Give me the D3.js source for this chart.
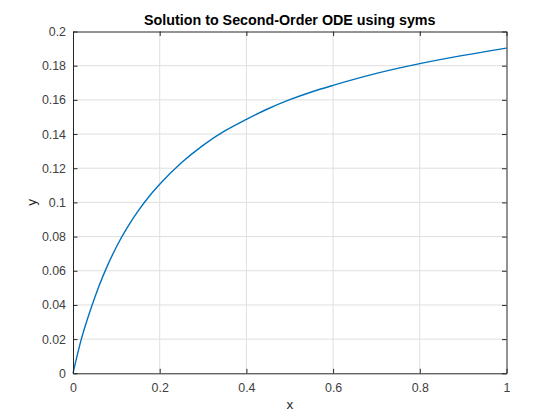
<!DOCTYPE html>
<html><head><meta charset="utf-8">
<script src="https://cdn.jsdelivr.net/npm/d3@7"></script>
<style>body{margin:0;background:#fff;} svg{display:block;font-family:"Liberation Sans",Arial,sans-serif;}</style>
</head><body>
<script>
const xValues = [0, 0.02, 0.04, 0.06, 0.08, 0.1, 0.125, 0.15, 0.175, 0.2, 0.25, 0.3, 0.35, 0.4, 0.45, 0.5, 0.55, 0.6, 0.7, 0.8, 0.9, 1.0];
const yValues = [0, 0.0207, 0.0369, 0.0511, 0.0633, 0.0739, 0.0852, 0.0949, 0.1033, 0.1106, 0.1232, 0.1334, 0.1418, 0.1486, 0.1548, 0.1601, 0.1646, 0.1685, 0.1755, 0.1812, 0.1860, 0.1903];
const xTicks = [0, 0.2, 0.4, 0.6, 0.8, 1];
const yTicks = [0, 0.02, 0.04, 0.06, 0.08, 0.1, 0.12, 0.14, 0.16, 0.18, 0.2];
const titleText = "Solution to Second-Order ODE using syms";
const xLabel = "x", yLabel = "y";

(function () {
const W = 560, H = 420;
const m = {left: 73, right: 53.5, top: 31.5, bottom: 46.7};
const svg = d3.select("body").append("svg").attr("width", W).attr("height", H);
const x = d3.scaleLinear().domain([0, 1]).range([m.left, W - m.right]);
const y = d3.scaleLinear().domain([0, 0.2]).range([H - m.bottom, m.top]);
const axisColor = "#262626";
const fmt = d => String(d);

// grid
const g = svg.append("g");
g.selectAll(".gx").data(xTicks.slice(1, -1)).join("line")
  .attr("x1", d => x(d)).attr("x2", d => x(d)).attr("y1", y(0)).attr("y2", y(0.2))
  .attr("stroke", "#dfdfdf").attr("stroke-width", 1);
g.selectAll(".gy").data(yTicks.slice(1, -1)).join("line")
  .attr("y1", d => y(d)).attr("y2", d => y(d)).attr("x1", x(0)).attr("x2", x(1))
  .attr("stroke", "#dfdfdf").attr("stroke-width", 1);

// curve
const pts = xValues.map((v, i) => [v, yValues[i]]);
svg.append("path").datum(pts)
  .attr("fill", "none").attr("stroke", "#0072BD").attr("stroke-width", 1.4)
  .attr("d", d3.line().x(d => x(d[0])).y(d => y(d[1])).curve(d3.curveMonotoneX));

// axes
const tl = 4.5;
const axB = svg.append("g").attr("transform", `translate(0,${y(0)})`)
  .call(d3.axisBottom(x).tickValues(xTicks).tickFormat(fmt).tickSizeInner(-tl).tickSizeOuter(0).tickPadding(10));
const axT = svg.append("g").attr("transform", `translate(0,${y(0.2)})`)
  .call(d3.axisTop(x).tickValues(xTicks).tickFormat("").tickSizeInner(-tl).tickSizeOuter(0));
const axL = svg.append("g").attr("transform", `translate(${x(0)},0)`)
  .call(d3.axisLeft(y).tickValues(yTicks).tickFormat(fmt).tickSizeInner(-tl).tickSizeOuter(0).tickPadding(7));
const axR = svg.append("g").attr("transform", `translate(${x(1)},0)`)
  .call(d3.axisRight(y).tickValues(yTicks).tickFormat("").tickSizeInner(-tl).tickSizeOuter(0));
[axB, axT, axL, axR].forEach(a => {
  a.select(".domain").attr("stroke", axisColor).attr("stroke-width", 1);
  a.selectAll(".tick line").attr("stroke", axisColor);
  a.selectAll("text").attr("fill", "#404040").attr("font-size", 12.4)
    .attr("font-family", "'Liberation Sans', Arial, sans-serif");
});

// title & labels
svg.append("text").attr("x", (x(0) + x(1)) / 2).attr("y", 25).attr("text-anchor", "middle")
  .attr("font-weight", "bold").attr("font-size", 14.3).attr("fill", "#000").text(titleText);
svg.append("text").attr("x", (x(0) + x(1)) / 2).attr("y", 409).attr("text-anchor", "middle")
  .attr("font-size", 13.5).attr("fill", "#262626").text(xLabel);
svg.append("text").attr("transform", `translate(36,${(y(0) + y(0.2)) / 2}) rotate(-90)`)
  .attr("text-anchor", "middle").attr("font-size", 13.5).attr("fill", "#262626").text(yLabel);
})();
</script>
</body></html>
